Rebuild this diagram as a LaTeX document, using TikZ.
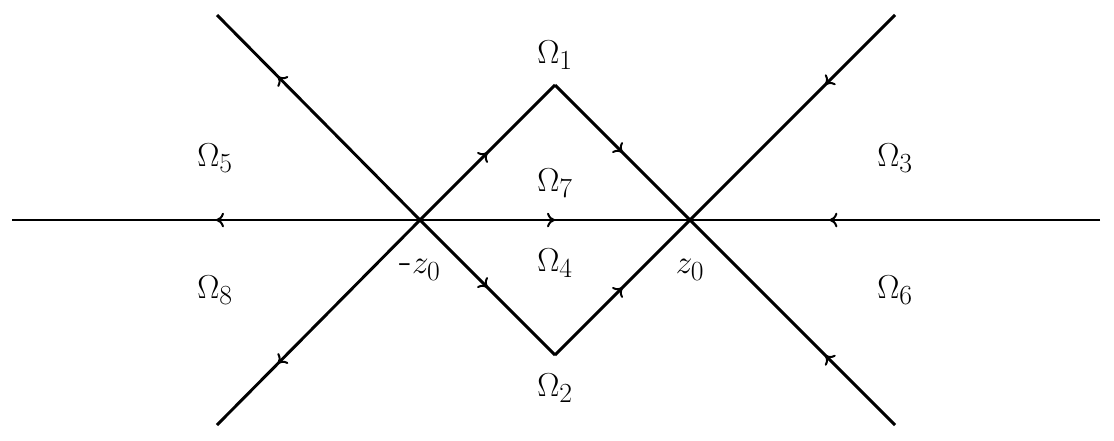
\documentclass[tikz,border=0pt]{standalone}
\usetikzlibrary{decorations.markings,arrows.meta}
\begin{document}
\begin{tikzpicture}[x=0.75pt,y=-0.75pt,
  ln/.style={line width=2.2pt},
  ar/.style={ln,postaction={decorate},decoration={markings,mark=at position #1 with {\arrow[line width=1.5pt]{Computer Modern Rightarrow[length=6pt,width=11pt]}}}},
  lab/.style={font=\fontsize{31}{36}\selectfont}]
\useasboundingbox (0,0) rectangle (1114,440);
\coordinate (mz) at (420,220);
\coordinate (z) at (690,220);
\coordinate (top) at (555,85);
\coordinate (bot) at (555,355);
\coordinate (L) at (12,220);
\coordinate (R) at (1100,220);
\coordinate (TL) at (217,15);
\coordinate (BL) at (217,425);
\coordinate (TR) at (895,15);
\coordinate (BR) at (895,425);
\draw[ar=0.5] (mz) -- (L);
\draw[ar=0.5] (mz) -- (z);
\draw[ar=0.66] (R) -- (z);
\draw[ar=0.7] (mz) -- (TL);
\draw[ar=0.7] (mz) -- (BL);
\draw[ar=0.34] (TR) -- (z);
\draw[ar=0.34] (BR) -- (z);
\draw[ar=0.5] (mz) -- (top);
\draw[ar=0.5] (top) -- (z);
\draw[ar=0.5] (mz) -- (bot);
\draw[ar=0.5] (bot) -- (z);
\node[lab] (o1) at (555,55) {$\Omega_1$};
\node[lab] (o7) at (555,183) {$\Omega_7$};
\node[lab] (o4) at (555,263) {$\Omega_4$};
\node[lab] (o2) at (555,388) {$\Omega_2$};
\node[lab] (o5) at (215,158) {$\Omega_5$};
\node[lab] (o3) at (895,158) {$\Omega_3$};
\node[lab] (o8) at (215,290) {$\Omega_8$};
\node[lab] (o6) at (895,290) {$\Omega_6$};
\node[lab] (lmz) at (420,270) {-$z_0$};
\node[lab] (lz) at (690,270) {$z_0$};
\end{tikzpicture}
\end{document}
